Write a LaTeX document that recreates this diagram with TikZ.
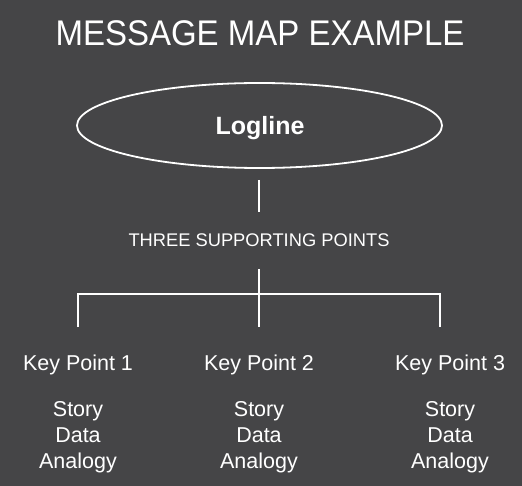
\documentclass[tikz,border=0pt]{standalone}
\usepackage{fontspec}
\setmainfont{Liberation Sans}
\usetikzlibrary{shapes.geometric}
\definecolor{bg}{RGB}{69,69,71}
\tikzset{
  txt/.style={text=white, inner sep=0pt, anchor=base},
  ln/.style={draw=white, line width=1.6pt},
}
\begin{document}
\begin{tikzpicture}[x=1pt,y=-1pt]
\fill[bg] (0,0) rectangle (522,486);
\useasboundingbox (0,0) rectangle (522,486);
\node[txt, font=\fontsize{33}{36}\selectfont, yscale=1.08] (title) at (260,46) {MESSAGE MAP EXAMPLE};
\node[ellipse, ln, line width=1.8pt, minimum width=365pt, minimum height=85pt, inner sep=0pt] (ell) at (259.5,125.5) {};
\node[txt, font=\fontsize{25}{28}\selectfont\bfseries] (log) at (260,135) {Logline};
\node[txt, font=\fontsize{18.3}{20}\selectfont] (three) at (259,246.5) {THREE SUPPORTING POINTS};
\coordinate (a1) at (259,180);
\coordinate (a2) at (259,212);
\draw[ln] (a1) -- (a2);
\coordinate (t) at (259,269);
\coordinate (m) at (259,294);
\coordinate (mb) at (259,327);
\coordinate (l) at (78,294);
\coordinate (lb) at (78,327);
\coordinate (r) at (440,294);
\coordinate (rb) at (440,327);
\draw[ln] (t) -- (mb);
\draw[ln] (lb) -- (l) -- (r) -- (rb);
\foreach \i/\x in {1/78, 2/259, 3/450}{
  \node[txt, font=\fontsize{21.5}{24}\selectfont] (kp\i) at (\x,370.5) {Key Point \i};
  \node[txt, font=\fontsize{21.5}{24}\selectfont] (s\i) at (\x,416) {Story};
  \node[txt, font=\fontsize{21.5}{24}\selectfont] (d\i) at (\x,442.5) {Data};
  \node[txt, font=\fontsize{21.5}{24}\selectfont] (an\i) at (\x,468.5) {Analogy};
}
\end{tikzpicture}
\end{document}
